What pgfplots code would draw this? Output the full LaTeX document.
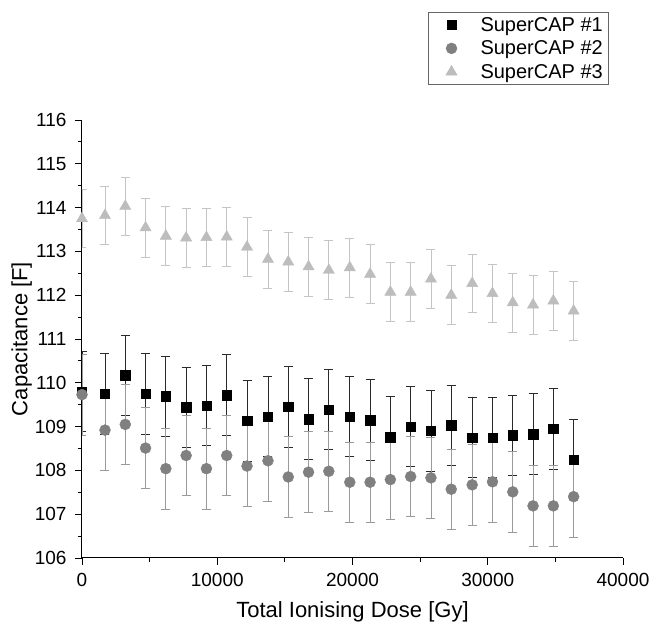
\documentclass[border=0pt]{standalone}
\usepackage{fontspec}
\setmainfont{Liberation Sans}
\usepackage{pgfplots}
\pgfplotsset{compat=1.18}
\definecolor{cA}{HTML}{000000}
\definecolor{cB}{HTML}{808080}
\definecolor{cC}{HTML}{BDBDBD}
\definecolor{eA}{HTML}{2A2A2A}
\definecolor{eB}{HTML}{9A9A9A}
\definecolor{eC}{HTML}{C4C4C4}
\begin{document}
\begin{tikzpicture}[x=1pt,y=1pt]
\useasboundingbox (0,0) rectangle (654,624);
\begin{axis}[
  at={(82pt,66pt)}, anchor=south west, scale only axis,
  width=541pt, height=438pt,
  xmin=0, xmax=40000, ymin=106, ymax=116,
  axis x line*=bottom, axis y line*=left,
  tick align=outside, major tick length=7pt, minor tick length=4pt,
  minor x tick num=1, minor y tick num=1,
  xtick={0,10000,20000,30000,40000}, ytick={106,107,...,116},
  tick style={black, line width=0.9pt},
  axis line style={line width=1pt},
  ticklabel style={font=\fontsize{19}{21}\selectfont},
  xticklabel style={yshift=-5pt},
  yticklabel style={xshift=-5pt},
  /pgf/number format/assume math mode=true,
  /pgf/number format/set thousands separator={},
  scaled x ticks=false,
  xlabel={Total Ionising Dose [Gy]}, ylabel={Capacitance [F]},
  label style={font=\fontsize{22}{24}\selectfont},
  xlabel style={yshift=-8pt},
  ylabel style={yshift=-4pt},
  legend style={at={(0.9723,1.2466)}, anchor=north east, draw=gray!80!black,
    font=\fontsize{20}{22}\selectfont, row sep=4pt, column sep=15pt,
    inner xsep=3pt, inner ysep=3pt, nodes={inner sep=2pt}},
  legend cell align=left,
  legend image code/.code={\path[draw=none,fill=none] (0pt,0pt) -- (32pt,0pt); \draw[#1,draw=none] plot coordinates {(20pt,0pt)};},
]
\addplot[only marks, mark=square*, mark size=4.7pt, color=cA,
  error bars/.cd, y dir=both, y explicit,
  error bar style={color=eA, line width=0.8pt},
  error mark options={rotate=90, mark size=4.5pt, color=eA, line width=0.8pt}]
  table[x=x, y=y, y error=e] {
x y e
0 109.80 0.92
1700 109.75 0.92
3200 110.17 0.92
4700 109.75 0.92
6200 109.69 0.92
7700 109.44 0.92
9200 109.48 0.92
10700 109.72 0.92
12200 109.13 0.92
13750 109.23 0.92
15250 109.45 0.92
16750 109.17 0.92
18250 109.39 0.92
19800 109.23 0.92
21300 109.15 0.92
22800 108.76 0.92
24300 109.00 0.92
25800 108.90 0.92
27300 109.03 0.92
28850 108.75 0.92
30350 108.75 0.92
31850 108.80 0.92
33350 108.83 0.92
34850 108.95 0.92
36350 108.25 0.92
};
\addlegendentry{SuperCAP \#1}
\addplot[only marks, mark=*, mark size=5.5pt, color=cB,
  error bars/.cd, y dir=both, y explicit,
  error bar style={color=eB, line width=0.8pt},
  error mark options={rotate=90, mark size=4.5pt, color=eB, line width=0.8pt}]
  table[x=x, y=y, y error=e] {
x y e
0 109.73 0.92
1700 108.92 0.92
3200 109.05 0.92
4700 108.51 0.92
6200 108.04 0.92
7700 108.34 0.92
9200 108.04 0.92
10700 108.34 0.92
12200 108.10 0.92
13750 108.22 0.92
15250 107.85 0.92
16750 107.96 0.92
18250 107.98 0.92
19800 107.73 0.92
21300 107.73 0.92
22800 107.79 0.92
24300 107.86 0.92
25800 107.83 0.92
27300 107.57 0.92
28850 107.67 0.92
30350 107.74 0.92
31850 107.51 0.92
33350 107.19 0.92
34850 107.19 0.92
36350 107.40 0.92
};
\addlegendentry{SuperCAP \#2}
\addplot[only marks, mark=triangle*, mark size=6.5pt, color=cC,
  error bars/.cd, y dir=both, y explicit,
  error bar style={color=eC, line width=0.8pt},
  error mark options={rotate=90, mark size=4.5pt, color=eC, line width=0.8pt}]
  table[x=x, y=y, y error=e] {
x y e
0 113.75 0.67
1700 113.82 0.67
3200 114.03 0.67
4700 113.54 0.67
6200 113.35 0.67
7700 113.31 0.67
9200 113.32 0.67
10700 113.33 0.67
12200 113.10 0.67
13750 112.82 0.67
15250 112.76 0.67
16750 112.65 0.67
18250 112.57 0.67
19800 112.63 0.67
21300 112.48 0.67
22800 112.07 0.67
24300 112.07 0.67
25800 112.37 0.67
27300 112.00 0.67
28850 112.27 0.67
30350 112.04 0.67
31850 111.83 0.67
33350 111.78 0.67
34850 111.87 0.67
36350 111.64 0.67
};
\addlegendentry{SuperCAP \#3}
\end{axis}
\end{tikzpicture}
\end{document}
